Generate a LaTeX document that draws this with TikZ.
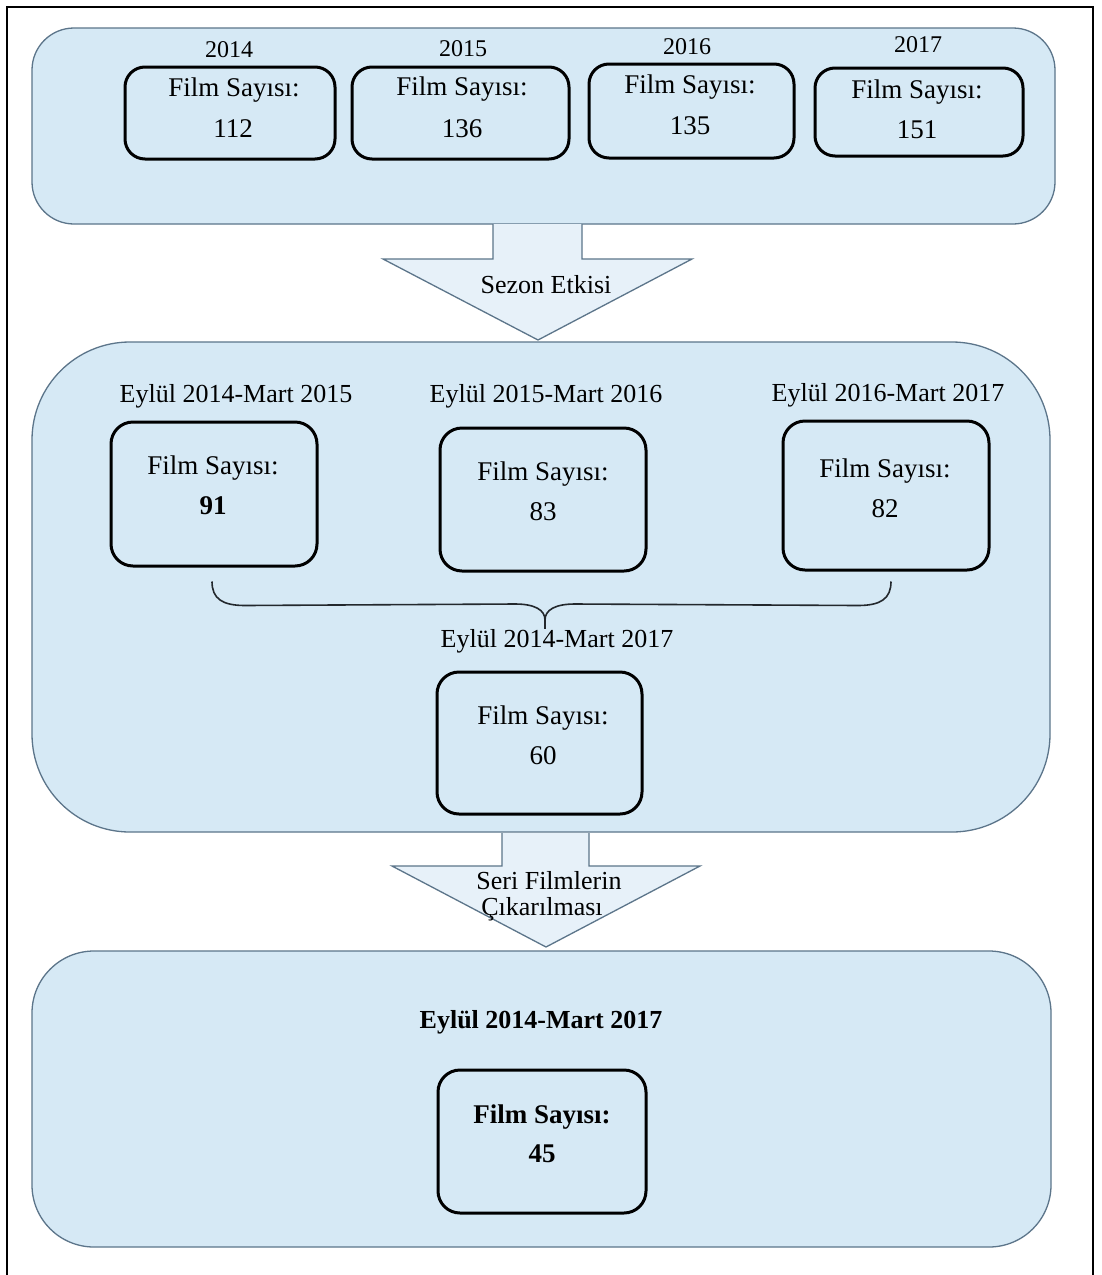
\documentclass[tikz,border=0pt]{standalone}
\usepackage{fontspec}
\setmainfont{Liberation Serif}
\usetikzlibrary{calc}
\definecolor{panelfill}{RGB}{214,233,245}
\definecolor{paneledge}{RGB}{92,117,138}
\definecolor{arrowfill}{RGB}{231,241,249}
\definecolor{bracecol}{RGB}{35,40,45}

\begin{document}
\begin{tikzpicture}[x=1pt,y=-1pt,
  panel/.style={draw=paneledge, line width=1.3pt, fill=panelfill, rectangle, inner sep=0pt},
  countbox/.style={draw=black, line width=3pt, fill=panelfill, rectangle, inner sep=0pt, rounded corners=22pt},
  blockarrow/.style={draw=paneledge, line width=1.3pt, fill=arrowfill, line join=miter},
  yearlbl/.style={font=\fontsize{24}{28}\selectfont, inner sep=0pt},
  lbl/.style={font=\fontsize{26}{30}\selectfont, inner sep=0pt},
  boxlbl/.style={font=\fontsize{27}{31}\selectfont, inner sep=0pt},
  boldlbl/.style={font=\fontsize{26}{30}\selectfont\bfseries, inner sep=0pt},
  boldboxlbl/.style={font=\fontsize{27}{31}\selectfont\bfseries, inner sep=0pt}
]
\useasboundingbox (0,0) rectangle (1101,1275);
\fill[white] (0,0) rectangle (1101,1275);

% outer frame (open at the bottom edge)
\draw[line width=2pt] (7,1280) -- (7,7) -- (1093,7) -- (1093,1280);

% ---------- panels ----------
\node[panel, rounded corners=42pt, minimum width=1023pt, minimum height=196pt] (p1) at (543.5,126) {};
\node[panel, rounded corners=98pt, minimum width=1018pt, minimum height=490pt] (p2) at (541,587) {};
\node[panel, rounded corners=62pt, minimum width=1019pt, minimum height=296pt] (p3) at (541.5,1099) {};

% ---------- block arrows between panels ----------
\coordinate (a1top) at (537.5,224);
\coordinate (a1tip) at (538,340);
\draw[blockarrow] ($(a1top)+(-44.5,0)$) -- ($(a1top)+(-44.5,35)$) -- ($(a1top)+(-154.5,35)$)
  -- (a1tip) -- ($(a1top)+(154.5,35)$) -- ($(a1top)+(44.5,35)$) -- ($(a1top)+(44.5,0)$);
\node[lbl] (a1lbl) at (546,285) {Sezon Etkisi};

\coordinate (a2top) at (545.5,833);
\coordinate (a2tip) at (546,947);
\draw[blockarrow] ($(a2top)+(-43.5,0)$) -- ($(a2top)+(-43.5,33)$) -- ($(a2top)+(-153.5,33)$)
  -- (a2tip) -- ($(a2top)+(154.5,33)$) -- ($(a2top)+(43.5,33)$) -- ($(a2top)+(43.5,0)$);
\node[lbl, anchor=base] (a2lbl1) at (549,889) {Seri Filmlerin};
\node[lbl, anchor=north] (a2lbl2) at (542,897) {Çıkarılması};

% ---------- yearly counts ----------
\node[yearlbl] (y14) at (229,50) {2014};
\node[yearlbl] (y15) at (463,49) {2015};
\node[yearlbl] (y16) at (687,47) {2016};
\node[yearlbl] (y17) at (918,45) {2017};

\node[countbox, rounded corners=20pt, minimum width=210pt, minimum height=92pt] (b14) at (230,113) {};
\node[countbox, rounded corners=20pt, minimum width=217pt, minimum height=92pt] (b15) at (460.5,113) {};
\node[countbox, rounded corners=20pt, minimum width=205pt, minimum height=94pt] (b16) at (691.5,111) {};
\node[countbox, rounded corners=20pt, minimum width=208pt, minimum height=88pt] (b17) at (919,112) {};

\node[boxlbl] (t14) at (234,90) {Film Sayısı:};
\node[boxlbl] (n14) at (233,129) {112};
\node[boxlbl] (t15) at (462,89) {Film Sayısı:};
\node[boxlbl] (n15) at (462,129) {136};
\node[boxlbl] (t16) at (690,87) {Film Sayısı:};
\node[boxlbl] (n16) at (690,126) {135};
\node[boxlbl] (t17) at (917,92) {Film Sayısı:};
\node[boxlbl] (n17) at (917,130) {151};

% ---------- seasonal counts ----------
\node[lbl] (s1) at (236,396) {Eylül 2014-Mart 2015};
\node[lbl] (s2) at (546,396) {Eylül 2015-Mart 2016};
\node[lbl] (s3) at (888,395) {Eylül 2016-Mart 2017};

\node[countbox, minimum width=206pt, minimum height=144pt] (m1) at (214,494) {};
\node[countbox, minimum width=206pt, minimum height=143pt] (m2) at (543,499.5) {};
\node[countbox, minimum width=206pt, minimum height=149pt] (m3) at (886,495.5) {};

\node[boxlbl] (mt1) at (213,468) {Film Sayısı:};
\node[boldboxlbl] (mn1) at (213,506) {91};
\node[boxlbl] (mt2) at (543,474) {Film Sayısı:};
\node[boxlbl] (mn2) at (543,512) {83};
\node[boxlbl] (mt3) at (885,471) {Film Sayısı:};
\node[boxlbl] (mn3) at (885,509) {82};

% brace joining the three seasons
\coordinate (brL) at ($(m1.south)+(-2,14)$);
\coordinate (brR) at ($(m3.south)+(5,10)$);
\coordinate (brM) at (545,620);
\draw[bracecol, line width=1.6pt]
  (brL) .. controls ($(brL)+(0,17)$) and ($(brL)+(10,24)$) .. ($(brL)+(33,24)$)
  -- ($(brM)+(-30,-16)$) .. controls ($(brM)+(-10,-16)$) and ($(brM)+(0,-10)$) .. (brM)
  .. controls ($(brM)+(0,-10)$) and ($(brM)+(10,-16)$) .. ($(brM)+(30,-16)$)
  -- ($(brR)+(-33,24)$) .. controls ($(brR)+(-10,24)$) and ($(brR)+(0,17)$) .. (brR);
\draw[bracecol, line width=1.6pt] (brM) -- ++(0,9);

\node[lbl] (sall) at (557,641) {Eylül 2014-Mart 2017};
\node[countbox, minimum width=205pt, minimum height=142pt] (m4) at (539.5,743) {};
\node[boxlbl] (mt4) at (543,718) {Film Sayısı:};
\node[boxlbl] (mn4) at (543,756) {60};

% ---------- after removing sequels ----------
\node[boldlbl] (fall) at (541,1022) {Eylül 2014-Mart 2017};
\node[countbox, minimum width=208pt, minimum height=143pt] (f1) at (542,1141.5) {};
\node[boldboxlbl] (ft1) at (542,1117) {Film Sayısı:};
\node[boldboxlbl] (fn1) at (542,1154) {45};
\end{tikzpicture}
\end{document}
